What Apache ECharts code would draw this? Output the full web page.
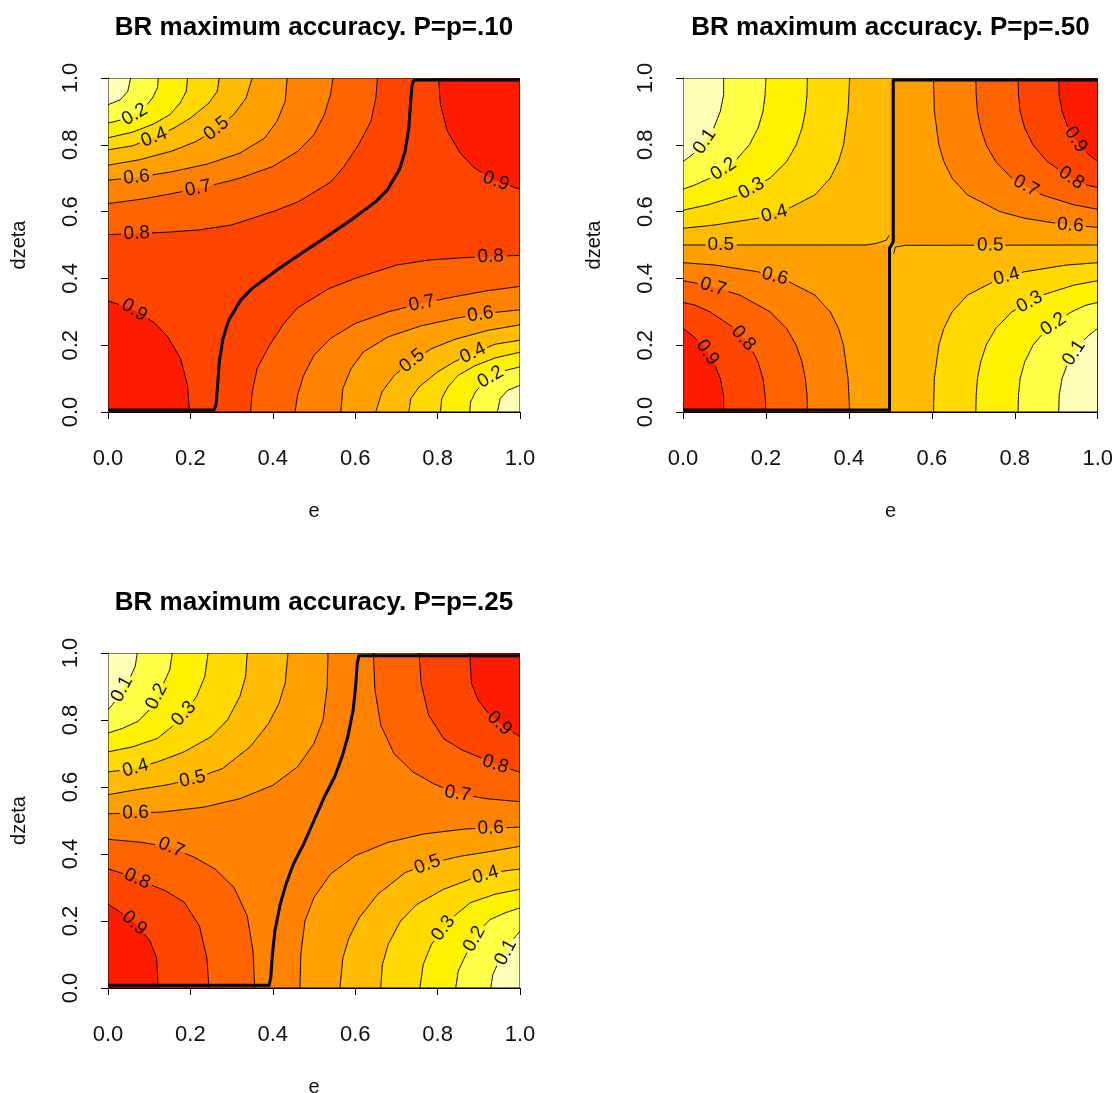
<!DOCTYPE html>
<html><head><meta charset="utf-8">
<script src="https://cdn.jsdelivr.net/npm/echarts@6/dist/echarts.min.js"></script>
<style>html,body{margin:0;padding:0;background:#fff;}#c{width:1116px;height:1093px;}</style>
</head><body><div id="c"></div>
<script>
// ---------------- DATA ----------------
// contour lines: [level, [[e, dzeta], ...]]
const p10_TL = [
 [0.8,[[0,0.531],[0.139,0.538],[0.22,0.545],[0.3,0.56],[0.4,0.6],[0.463,0.63],[0.54,0.688],[0.573,0.735],[0.608,0.8],[0.638,0.87],[0.65,0.94],[0.654,1]]],
 [0.7,[[0,0.624],[0.08,0.637],[0.16,0.655],[0.24,0.675],[0.32,0.7],[0.4,0.735],[0.46,0.78],[0.5,0.83],[0.525,0.89],[0.54,0.95],[0.546,1]]],
 [0.6,[[0,0.694],[0.07,0.703],[0.15,0.718],[0.24,0.742],[0.32,0.775],[0.38,0.82],[0.41,0.87],[0.43,0.93],[0.435,1]]],
 [0.5,[[0,0.739],[0.076,0.755],[0.157,0.782],[0.214,0.81],[0.26,0.845],[0.305,0.89],[0.335,0.94],[0.35,1]]],
 [0.4,[[0,0.785],[0.06,0.797],[0.113,0.823],[0.16,0.85],[0.2,0.88],[0.245,0.925],[0.265,0.96],[0.27,1]]],
 [0.3,[[0,0.821],[0.06,0.838],[0.11,0.862],[0.15,0.89],[0.175,0.925],[0.19,0.96],[0.193,1]]],
 [0.2,[[0,0.865],[0.05,0.88],[0.085,0.905],[0.108,0.94],[0.12,0.97],[0.122,1]]],
 [0.1,[[0,0.92],[0.03,0.935],[0.048,0.96],[0.055,1]]]
];
const p10_BR = [
 [0.8,[[1,0.469],[0.861,0.462],[0.78,0.455],[0.7,0.44],[0.6,0.4],[0.537,0.37],[0.46,0.312],[0.427,0.265],[0.392,0.2],[0.362,0.13],[0.35,0.06],[0.346,0]]],
 [0.7,[[1,0.376],[0.92,0.363],[0.84,0.345],[0.76,0.325],[0.68,0.3],[0.6,0.265],[0.54,0.22],[0.5,0.17],[0.475,0.11],[0.46,0.05],[0.454,0]]],
 [0.6,[[1,0.306],[0.93,0.297],[0.85,0.282],[0.76,0.258],[0.68,0.225],[0.62,0.18],[0.59,0.13],[0.57,0.07],[0.565,0]]],
 [0.5,[[1,0.261],[0.924,0.245],[0.843,0.218],[0.786,0.19],[0.74,0.155],[0.695,0.11],[0.665,0.06],[0.65,0]]],
 [0.4,[[1,0.215],[0.94,0.203],[0.887,0.177],[0.84,0.15],[0.8,0.12],[0.755,0.075],[0.735,0.04],[0.73,0]]],
 [0.3,[[1,0.179],[0.94,0.162],[0.89,0.138],[0.85,0.11],[0.825,0.075],[0.81,0.04],[0.807,0]]],
 [0.2,[[1,0.135],[0.95,0.12],[0.915,0.095],[0.892,0.06],[0.88,0.03],[0.878,0]]],
 [0.1,[[1,0.08],[0.97,0.065],[0.952,0.04],[0.945,0]]]
];
const p10_BL = [
 [0.9,[[0,0.333],[0.06,0.308],[0.112,0.268],[0.145,0.225],[0.176,0.16],[0.193,0.08],[0.198,0]]]
];
const p10_TR = [
 [0.9,[[1,0.667],[0.94,0.692],[0.888,0.732],[0.855,0.775],[0.824,0.84],[0.807,0.92],[0.802,1]]]
];
const p10_thick = [[0,0.006],[0.257,0.006],[0.262,0.02],[0.266,0.08],[0.27,0.15],[0.279,0.22],[0.293,0.275],[0.322,0.335],[0.35,0.37],[0.41,0.425],[0.475,0.48],[0.525,0.52],[0.59,0.575],[0.65,0.63],[0.678,0.665],[0.707,0.725],[0.721,0.78],[0.73,0.85],[0.734,0.92],[0.738,0.98],[0.743,0.994],[1,0.994]];
const p10_labels = [[0.2,0.059,0.903],[0.4,0.112,0.823],[0.5,0.257,0.858],[0.6,0.07,0.694],[0.7,0.217,0.679],[0.8,0.07,0.524],[0.9,0.063,0.304],[0.9,0.941,0.689],[0.8,0.929,0.464],[0.7,0.763,0.319],[0.6,0.905,0.284],[0.5,0.75,0.135],[0.4,0.888,0.17],[0.2,0.94,0.08]];

const p50_TL = [
 [0.4,[[0,0.55],[0.077,0.56],[0.18,0.58],[0.24,0.6],[0.318,0.65],[0.355,0.7],[0.375,0.75],[0.387,0.8],[0.398,0.9],[0.402,1]]],
 [0.3,[[0,0.604],[0.059,0.62],[0.137,0.65],[0.21,0.7],[0.25,0.75],[0.273,0.8],[0.287,0.85],[0.295,0.9],[0.299,0.95],[0.3,1]]],
 [0.2,[[0,0.667],[0.029,0.68],[0.065,0.7],[0.125,0.75],[0.16,0.8],[0.181,0.85],[0.193,0.9],[0.198,0.95],[0.2,1]]],
 [0.1,[[0,0.75],[0.022,0.77],[0.047,0.8],[0.074,0.85],[0.09,0.9],[0.098,0.95],[0.098,1]]]
];
const p50_BL = [
 [0.6,[[0.402,0],[0.398,0.1],[0.387,0.2],[0.375,0.25],[0.355,0.3],[0.318,0.35],[0.24,0.4],[0.18,0.42],[0.077,0.44],[0,0.447]]],
 [0.7,[[0.3,0],[0.299,0.05],[0.295,0.1],[0.287,0.15],[0.273,0.2],[0.25,0.25],[0.21,0.3],[0.137,0.35],[0.059,0.38],[0,0.393]]],
 [0.8,[[0.2,0],[0.198,0.05],[0.193,0.1],[0.181,0.15],[0.16,0.2],[0.125,0.25],[0.065,0.3],[0.029,0.32],[0,0.328]]],
 [0.9,[[0.098,0],[0.098,0.05],[0.09,0.1],[0.074,0.15],[0.047,0.2],[0.022,0.23],[0,0.25]]]
];
const p50_TR = [
 [0.6,[[0.604,1],[0.606,0.9],[0.617,0.8],[0.629,0.75],[0.649,0.7],[0.686,0.65],[0.764,0.6],[0.824,0.58],[0.925,0.56],[1,0.553]]],
 [0.7,[[0.706,1],[0.707,0.95],[0.71,0.9],[0.718,0.85],[0.731,0.8],[0.754,0.75],[0.793,0.7],[0.866,0.65],[0.943,0.62],[1,0.607]]],
 [0.8,[[0.808,1],[0.809,0.95],[0.813,0.9],[0.824,0.85],[0.844,0.8],[0.878,0.75],[0.937,0.7],[0.972,0.68],[1,0.672]]],
 [0.9,[[0.906,1],[0.907,0.95],[0.914,0.9],[0.929,0.85],[0.955,0.8],[0.979,0.77],[1,0.75]]]
];
const p50_BR = [
 [0.4,[[0.604,0],[0.606,0.1],[0.617,0.2],[0.629,0.25],[0.649,0.3],[0.686,0.35],[0.764,0.4],[0.824,0.42],[0.925,0.44],[1,0.447]]],
 [0.3,[[0.706,0],[0.707,0.05],[0.71,0.1],[0.718,0.15],[0.731,0.2],[0.754,0.25],[0.793,0.3],[0.866,0.35],[0.943,0.38],[1,0.393]]],
 [0.2,[[0.808,0],[0.809,0.05],[0.813,0.1],[0.824,0.15],[0.844,0.2],[0.878,0.25],[0.937,0.3],[0.972,0.32],[1,0.328]]],
 [0.1,[[0.906,0],[0.907,0.05],[0.914,0.1],[0.929,0.15],[0.955,0.2],[0.979,0.23],[1,0.25]]]
];
const p50_mid = [
 [0.5,[[0,0.5],[0.44,0.5],[0.464,0.504],[0.49,0.514],[0.497,0.529]]],
 [0.5,[[0.508,0.474],[0.512,0.494],[0.537,0.499],[1,0.5]]]
];
const p50_quadrants = [
 [0.4,[[0,0.5],[0.5,0.5],[0.5,1],[0,1]]],
 [0.4,[[0.5,0],[1,0],[1,0.5],[0.5,0.5]]]
];
const p50_thick = [[0,0.006],[0.498,0.006],[0.498,0.49],[0.507,0.51],[0.507,0.994],[1,0.994]];
const p50_labels = [[0.1,0.043,0.818],[0.2,0.095,0.733],[0.3,0.163,0.674],[0.4,0.219,0.599],[0.5,0.091,0.497],[0.6,0.219,0.394],[0.7,0.071,0.369],[0.8,0.131,0.205],[0.9,0.043,0.165],[0.9,0.95,0.818],[0.8,0.938,0.704],[0.7,0.826,0.674],[0.6,0.934,0.557],[0.5,0.741,0.497],[0.4,0.782,0.399],[0.3,0.838,0.324],[0.2,0.898,0.254],[0.1,0.958,0.165]];

const p25_TL = [
 [0.6,[[0,0.52],[0.13,0.525],[0.233,0.54],[0.32,0.565],[0.4,0.605],[0.46,0.66],[0.5,0.73],[0.522,0.8],[0.532,0.9],[0.534,1]]],
 [0.5,[[0,0.577],[0.06,0.59],[0.146,0.607],[0.21,0.625],[0.278,0.655],[0.345,0.72],[0.39,0.79],[0.415,0.85],[0.43,0.91],[0.437,1]]],
 [0.4,[[0,0.645],[0.06,0.654],[0.12,0.675],[0.185,0.705],[0.25,0.75],[0.29,0.8],[0.32,0.87],[0.334,0.93],[0.338,1]]],
 [0.3,[[0,0.705],[0.06,0.72],[0.12,0.745],[0.155,0.78],[0.185,0.82],[0.215,0.87],[0.235,0.93],[0.243,1]]],
 [0.2,[[0,0.761],[0.035,0.775],[0.073,0.796],[0.1,0.83],[0.116,0.865],[0.135,0.91],[0.15,0.95],[0.156,1]]],
 [0.1,[[0,0.83],[0.02,0.86],[0.036,0.897],[0.055,0.93],[0.066,0.96],[0.071,1]]]
];
const p25_BR = [
 [0.6,[[1,0.48],[0.87,0.475],[0.767,0.46],[0.68,0.435],[0.6,0.395],[0.54,0.34],[0.5,0.27],[0.478,0.2],[0.468,0.1],[0.466,0]]],
 [0.5,[[1,0.423],[0.94,0.41],[0.854,0.393],[0.79,0.375],[0.722,0.345],[0.655,0.28],[0.61,0.21],[0.585,0.15],[0.57,0.09],[0.563,0]]],
 [0.4,[[1,0.355],[0.94,0.346],[0.88,0.325],[0.815,0.295],[0.75,0.25],[0.71,0.2],[0.68,0.13],[0.666,0.07],[0.662,0]]],
 [0.3,[[1,0.295],[0.94,0.28],[0.88,0.255],[0.845,0.22],[0.815,0.18],[0.785,0.13],[0.765,0.07],[0.757,0]]],
 [0.2,[[1,0.239],[0.965,0.225],[0.927,0.204],[0.9,0.17],[0.884,0.135],[0.865,0.09],[0.85,0.05],[0.844,0]]],
 [0.1,[[1,0.17],[0.98,0.14],[0.964,0.103],[0.945,0.07],[0.934,0.04],[0.929,0]]]
];
const p25_BL = [
 [0.7,[[0.356,0],[0.352,0.11],[0.338,0.215],[0.306,0.3],[0.26,0.355],[0.21,0.39],[0.152,0.42],[0.08,0.435],[0,0.444]]],
 [0.8,[[0.245,0],[0.24,0.09],[0.222,0.185],[0.185,0.256],[0.14,0.29],[0.1,0.31],[0.06,0.332],[0,0.356]]],
 [0.9,[[0.122,0],[0.118,0.09],[0.102,0.14],[0.078,0.178],[0.047,0.213],[0,0.25]]]
];
const p25_TR = [
 [0.7,[[0.644,1],[0.648,0.89],[0.662,0.785],[0.694,0.7],[0.74,0.645],[0.79,0.61],[0.848,0.58],[0.92,0.565],[1,0.556]]],
 [0.8,[[0.755,1],[0.76,0.91],[0.778,0.815],[0.815,0.744],[0.86,0.71],[0.9,0.69],[0.94,0.668],[1,0.644]]],
 [0.9,[[0.878,1],[0.882,0.91],[0.898,0.86],[0.922,0.822],[0.953,0.787],[1,0.75]]]
];
const p25_thick = [[0,0.008],[0.391,0.008],[0.395,0.03],[0.399,0.1],[0.405,0.17],[0.418,0.25],[0.432,0.31],[0.45,0.37],[0.475,0.43],[0.5,0.5],[0.525,0.57],[0.55,0.63],[0.568,0.69],[0.582,0.75],[0.595,0.83],[0.601,0.9],[0.605,0.97],[0.609,0.992],[1,0.992]];
const p25_labels = [[0.1,0.031,0.894],[0.2,0.112,0.874],[0.3,0.184,0.819],[0.4,0.067,0.655],[0.5,0.205,0.625],[0.6,0.067,0.52],[0.7,0.152,0.416],[0.8,0.071,0.326],[0.9,0.059,0.187],[0.9,0.953,0.794],[0.8,0.939,0.663],[0.7,0.848,0.575],[0.6,0.929,0.476],[0.5,0.779,0.356],[0.4,0.917,0.336],[0.3,0.816,0.177],[0.2,0.888,0.147],[0.1,0.957,0.112]];

const titles = ['BR maximum accuracy. P=p=.10','BR maximum accuracy. P=p=.50','BR maximum accuracy. P=p=.25'];
const xName = 'e', yName = 'dzeta';
const tickValues = [0, 0.2, 0.4, 0.6, 0.8, 1.0];

// ---------------- STYLE / LAYOUT ----------------
const bandColors = ['#FFFFB8','#FFFF48','#FFF200','#FFD900','#FFBB00','#FFA000','#FF8200','#FF6400','#FF4500','#FF1C00'];
const bandColor = lo => bandColors[Math.max(0, Math.min(9, Math.round(lo * 10)))];
const FONT = '"Liberation Sans", Arial, Helvetica, sans-serif';
const LABEL_FONT_SIZE = 19;
const GAP = 15;

const panels = [
 {title: titles[0], grid: {left: 108, top: 78, width: 412, height: 334}, base: 0.8, regions: [],
  families: [{lines: p10_TL, corner: [0,1], low: true}, {lines: p10_BR, corner: [1,0], low: true},
             {lines: p10_BL, corner: [0,0], low: false}, {lines: p10_TR, corner: [1,1], low: false}],
  extra: [], thick: p10_thick, labels: p10_labels},
 {title: titles[1], grid: {left: 683, top: 78, width: 415, height: 334}, base: 0.5, regions: p50_quadrants,
  families: [{lines: p50_TL, corner: [0,1], low: true}, {lines: p50_BR, corner: [1,0], low: true},
             {lines: p50_BL, corner: [0,0], low: false}, {lines: p50_TR, corner: [1,1], low: false}],
  extra: p50_mid, thick: p50_thick, labels: p50_labels},
 {title: titles[2], grid: {left: 108, top: 653, width: 412, height: 335}, base: 0.6, regions: [],
  families: [{lines: p25_TL, corner: [0,1], low: true}, {lines: p25_BR, corner: [1,0], low: true},
             {lines: p25_BL, corner: [0,0], low: false}, {lines: p25_TR, corner: [1,1], low: false}],
  extra: [], thick: p25_thick, labels: p25_labels}
];

function makeRender(pn) {
  return function (params, api) {
    const c = p => api.coord(p);
    const ch = [];
    const a = c([0, 1]), b = c([1, 0]);
    ch.push({type: 'rect', shape: {x: a[0], y: a[1], width: b[0] - a[0], height: b[1] - a[1]}, style: {fill: bandColor(pn.base)}});
    pn.regions.forEach(r => ch.push({type: 'polygon', shape: {points: r[1].map(c)}, style: {fill: bandColor(r[0])}}));
    pn.families.forEach(f => f.lines.forEach(ln => {
      ch.push({type: 'polygon', shape: {points: ln[1].concat([f.corner]).map(c)},
               style: {fill: bandColor(f.low ? ln[0] - 0.1 : ln[0])}});
    }));
    const all = [];
    pn.families.forEach(f => f.lines.forEach(l => all.push(l)));
    pn.extra.forEach(l => all.push(l));
    const pix = all.map(l => l[1].map(c));
    const labs = pn.labels.map(lb => {
      const p = c([lb[1], lb[2]]);
      let best = null;
      all.forEach((ln, li) => {
        if (Math.abs(ln[0] - lb[0]) > 1e-6) return;
        const px = pix[li];
        for (let i = 0; i < px.length - 1; i++) {
          const s = px[i], t = px[i + 1];
          const dx = t[0] - s[0], dy = t[1] - s[1], L2 = dx * dx + dy * dy;
          let u = L2 ? ((p[0] - s[0]) * dx + (p[1] - s[1]) * dy) / L2 : 0;
          u = Math.max(0, Math.min(1, u));
          const q = [s[0] + u * dx, s[1] + u * dy];
          const d = Math.hypot(q[0] - p[0], q[1] - p[1]);
          if (!best || d < best.d) best = {d, q, li, ang: Math.atan2(-dy, dx)};
        }
      });
      let ang = best.ang;
      if (ang > Math.PI / 2) ang -= Math.PI;
      if (ang < -Math.PI / 2) ang += Math.PI;
      return {text: lb[0].toFixed(1), x: best.q[0], y: best.q[1], li: best.li, ang};
    });
    pix.forEach((px, li) => {
      const mine = labs.filter(l => l.li === li);
      const dense = [];
      for (let i = 0; i < px.length - 1; i++) {
        const s = px[i], t = px[i + 1];
        const n = Math.max(1, Math.ceil(Math.hypot(t[0] - s[0], t[1] - s[1]) / 1.5));
        for (let k = 0; k < n; k++) dense.push([s[0] + (t[0] - s[0]) * k / n, s[1] + (t[1] - s[1]) * k / n]);
      }
      dense.push(px[px.length - 1]);
      let run = [];
      const flush = () => { if (run.length > 1) ch.push({type: 'polyline', shape: {points: run}, style: {stroke: '#000', lineWidth: 1, fill: 'none'}}); run = []; };
      dense.forEach(pt => {
        if (mine.some(l => Math.hypot(pt[0] - l.x, pt[1] - l.y) < GAP)) flush(); else run.push(pt);
      });
      flush();
    });
    labs.forEach(l => ch.push({type: 'text', x: l.x, y: l.y, rotation: l.ang,
      style: {text: l.text, x: 0, y: 0, align: 'center', verticalAlign: 'middle', fill: '#111',
              font: LABEL_FONT_SIZE + 'px ' + FONT}}));
    ch.push({type: 'polyline', shape: {points: pn.thick.map(c)}, style: {stroke: '#000', lineWidth: 3, fill: 'none', lineJoin: 'round'}});
    ch.push({type: 'rect', shape: {x: a[0], y: a[1], width: b[0] - a[0], height: b[1] - a[1]}, style: {fill: 'none', stroke: '#000', lineWidth: 1}});
    return {type: 'group', children: ch};
  };
}

const chart = echarts.init(document.getElementById('c'), null, {renderer: 'canvas'});
const option = {
  animation: false,
  backgroundColor: '#fff',
  grid: panels.map(p => Object.assign({containLabel: false}, p.grid)),
  xAxis: panels.map((p, i) => ({
    type: 'value', gridIndex: i, min: 0, max: 1, interval: 0.2,
    axisLine: {show: true, onZero: false, lineStyle: {color: '#000', width: 1}},
    axisTick: {show: true, length: 7, lineStyle: {color: '#000'}},
    axisLabel: {show: true, margin: 36, fontSize: 22, color: '#111', fontFamily: FONT,
                formatter: v => tickValues.some(t => Math.abs(t - v) < 1e-9) ? v.toFixed(1) : ''},
    splitLine: {show: false}
  })),
  yAxis: panels.map((p, i) => ({
    type: 'value', gridIndex: i, min: 0, max: 1, interval: 0.2,
    axisLine: {show: true, onZero: false, lineStyle: {color: '#000', width: 1}},
    axisTick: {show: true, length: 7, lineStyle: {color: '#000'}},
    axisLabel: {show: true, margin: 26, rotate: 90, fontSize: 22, color: '#111', fontFamily: FONT,
                formatter: v => v.toFixed(1)},
    splitLine: {show: false}
  })),
  series: panels.map((p, i) => ({
    type: 'custom', coordinateSystem: 'cartesian2d', xAxisIndex: i, yAxisIndex: i,
    data: [[0.5, 0.5]], silent: true, clip: true, renderItem: makeRender(p)
  })),
  graphic: [].concat(...panels.map(p => {
    const cx = p.grid.left + p.grid.width / 2, cy = p.grid.top + p.grid.height / 2;
    return [
      {type: 'text', x: cx, y: p.grid.top - 50, style: {text: p.title, align: 'center', verticalAlign: 'middle', fill: '#000', font: 'bold 26px ' + FONT}},
      {type: 'text', x: cx, y: p.grid.top + p.grid.height + 99, style: {text: xName, align: 'center', verticalAlign: 'middle', fill: '#111', font: '20px ' + FONT}},
      {type: 'text', x: p.grid.left - 89, y: cy, rotation: Math.PI / 2, style: {text: yName, align: 'center', verticalAlign: 'middle', fill: '#111', font: '20px ' + FONT}}
    ];
  }))
};
chart.setOption(option);
</script>
</body></html>
